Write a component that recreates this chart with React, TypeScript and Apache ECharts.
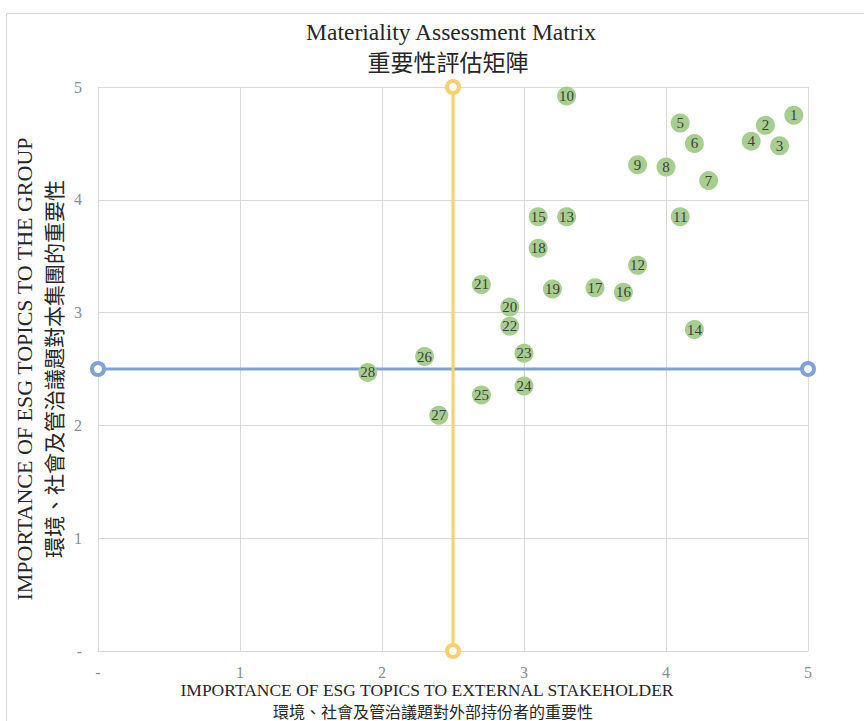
import React, { useEffect, useRef } from "react";
import * as echarts from "echarts";

const topicIds = [1, 2, 3, 4, 5, 6, 7, 8, 9, 10, 11, 12, 13, 14, 15, 16, 17, 18, 19, 20, 21, 22, 23, 24, 25, 26, 27, 28];
const externalScores = [4.9, 4.7, 4.8, 4.6, 4.1, 4.2, 4.3, 4.0, 3.8, 3.3, 4.1, 3.8, 3.3, 4.2, 3.1, 3.7, 3.5, 3.1, 3.2, 2.9, 2.7, 2.9, 3.0, 3.0, 2.7, 2.3, 2.4, 1.9];
const groupScores = [4.75, 4.66, 4.48, 4.52, 4.68, 4.5, 4.17, 4.29, 4.31, 4.92, 3.85, 3.42, 3.85, 2.85, 3.85, 3.18, 3.22, 3.57, 3.21, 3.05, 3.25, 2.88, 2.64, 2.35, 2.27, 2.61, 2.09, 2.47];

const horizontalThreshold = [[0, 2.5], [5, 2.5]];
const verticalThreshold = [[2.5, 0], [2.5, 5]];
const tickValues = [0, 1, 2, 3, 4, 5];

const titleEn = "Materiality Assessment Matrix";
const titleZh = "重要性評估矩陣";
const xNameEn = "IMPORTANCE OF ESG TOPICS TO EXTERNAL STAKEHOLDER";
const xNameZh = "環境、社會及管治議題對外部持份者的重要性";
const yNameEn = "IMPORTANCE OF ESG TOPICS TO THE GROUP";
const yNameZh = "環境、社會及管治議題對本集團的重要性";

const SERIF = "'Liberation Serif', 'Noto Sans CJK TC', serif";
const CJK = "'Noto Sans CJK TC', sans-serif";

export default function App() {
  const ref = useRef<HTMLDivElement>(null);
  useEffect(() => {
    if (!ref.current) return;
    const chart = echarts.init(ref.current, null, { renderer: "svg" });
    const points = topicIds.map((id, i) => ({ name: String(id), value: [externalScores[i], groupScores[i]] }));
    const tickFmt = (v: number) => (v === tickValues[0] ? "-" : String(v));
    const centerText = (text: string, x: number, y: number, fontFamily: string, fontSize: number) => ({
      type: "text",
      x,
      y,
      style: { text, fontFamily, fontSize, fill: "#262626", textAlign: "center", textVerticalAlign: "middle" },
    });
    chart.setOption({
      animation: false,
      backgroundColor: "#ffffff",
      graphic: [
        {
          type: "rect",
          shape: { x: 6.5, y: 13.5, width: 900, height: 800 },
          style: { fill: "none", stroke: "#d9d9d9", lineWidth: 1 },
          silent: true,
          z: -10,
        },
        centerText(titleEn, 451, 32, SERIF, 23.5),
        centerText(titleZh, 448, 61, CJK, 23),
        centerText(xNameEn, 427, 690, SERIF, 17.5),
        centerText(xNameZh, 433, 710.5, CJK, 16),
      ],
      grid: { left: 98, right: 56, top: 87, bottom: 70, outerBoundsMode: "none", containLabel: false },
      xAxis: {
        type: "value",
        min: 0,
        max: 5,
        interval: 1,
        axisLine: { show: true, lineStyle: { color: "#d9d9d9", width: 1 } },
        axisTick: { show: false },
        axisLabel: { formatter: tickFmt, fontFamily: SERIF, fontSize: 16, color: "#8c8c8c", margin: 13 },
        splitLine: { show: true, lineStyle: { color: "#d9d9d9", width: 1 } },
      },
      yAxis: {
        type: "value",
        min: 0,
        max: 5,
        interval: 1,
        name: `{en|${yNameEn}}\n{zh|${yNameZh}}`,
        nameLocation: "middle",
        nameGap: 30,
        nameTextStyle: {
          rich: {
            en: { fontFamily: SERIF, fontSize: 22, color: "#262626", lineHeight: 28 },
            zh: { fontFamily: CJK, fontSize: 21, color: "#262626", lineHeight: 28 },
          },
        },
        axisLine: { show: true, lineStyle: { color: "#d9d9d9", width: 1 } },
        axisTick: { show: false },
        axisLabel: { formatter: tickFmt, fontFamily: SERIF, fontSize: 16, color: "#8c8c8c", margin: 16 },
        splitLine: { show: true, lineStyle: { color: "#d9d9d9", width: 1 } },
      },
      series: [
        {
          type: "line",
          data: horizontalThreshold,
          lineStyle: { color: "#7fa3d6", width: 3 },
          itemStyle: { color: "#ffffff", borderColor: "#7fa3d6", borderWidth: 4 },
          symbol: "circle",
          symbolSize: 12,
          z: 2,
          silent: true,
        },
        {
          type: "line",
          data: verticalThreshold,
          lineStyle: { color: "#f8cf6e", width: 3 },
          itemStyle: { color: "#ffffff", borderColor: "#f8cf6e", borderWidth: 4 },
          symbol: "circle",
          symbolSize: 12,
          z: 2,
          silent: true,
        },
        {
          type: "scatter",
          data: points,
          symbol: "circle",
          symbolSize: 19,
          itemStyle: { color: "#a6cf8f", opacity: 1 },
          label: {
            show: true,
            position: "inside",
            formatter: (p: any) => p.name,
            fontFamily: SERIF,
            fontSize: 15,
            color: "#404040",
          },
          z: 5,
        },
      ],
    });
    return () => chart.dispose();
  }, []);
  return <div ref={ref} style={{ position: "fixed", left: 0, top: 0, width: 864, height: 721 }} />;
}
